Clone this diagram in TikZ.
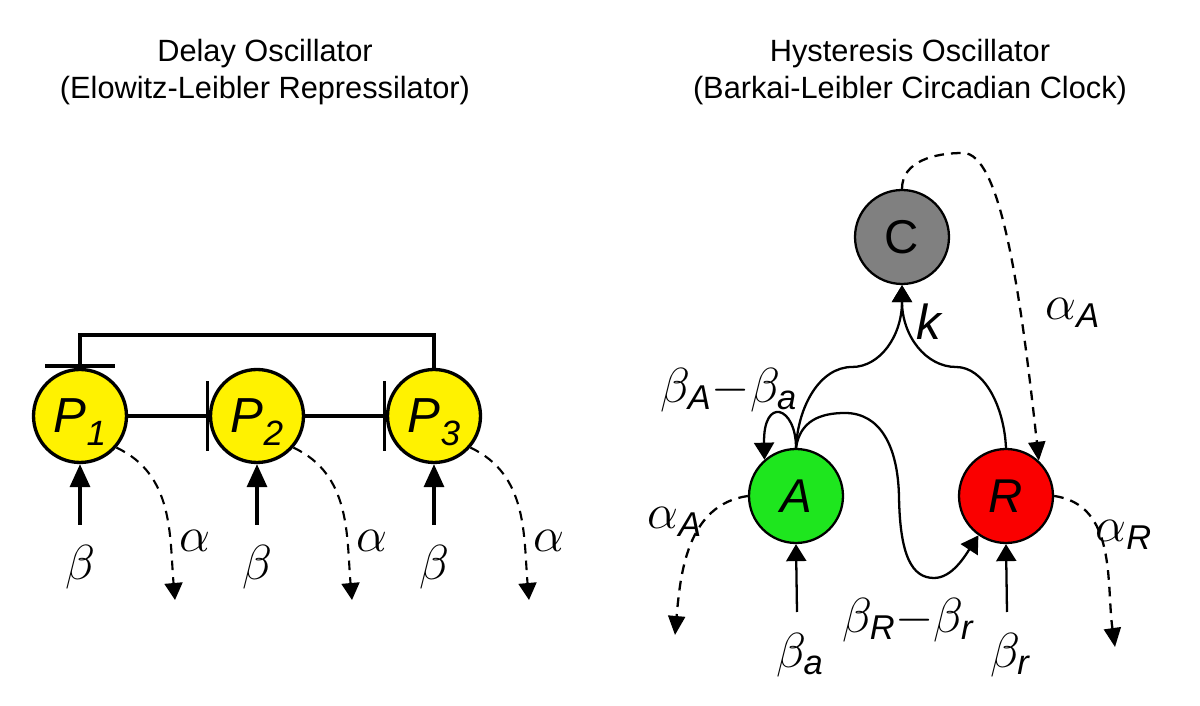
\RequirePackage{fix-cm}
\documentclass[tikz,border=0pt]{standalone}
\usepackage{amsmath}
\usepackage{fontspec}
\setmainfont{Liberation Sans}
\usetikzlibrary{arrows.meta}

\definecolor{agreen}{RGB}{30,230,30}
\definecolor{rred}{RGB}{250,0,0}
\definecolor{cgray}{RGB}{128,128,128}

\newcommand{\prot}[2]{\textit{#1}\raisebox{-0.25em}[0pt][0pt]{\fontsize{20}{20}\selectfont\textit{#2}}}

\begin{document}
\begin{tikzpicture}[x=0.02cm,y=0.02cm,
  gene/.style={circle,draw,line width=1.9pt,fill=yellow,minimum size=1.86cm,inner sep=0pt,font=\fontsize{28}{28}\selectfont},
  spec/.style={circle,draw,line width=1.3pt,minimum size=1.88cm,inner sep=0pt,font=\fontsize{27}{27}\selectfont},
  lab/.style={font=\fontsize{28}{28}\selectfont,inner sep=1pt},
  ttl/.style={font=\fontsize{17.5}{21}\selectfont,anchor=base},
  rep/.style={line width=1.9pt,-{Bar[width=1.4cm]}},
  prod/.style={line width=1.9pt,-{Triangle[width=0.4cm,length=0.46cm]}},
  decay/.style={line width=1.2pt,dash pattern=on 5.5pt off 4pt,-{Triangle[width=0.36cm,length=0.34cm]}},
  act/.style={line width=1.3pt,-{Triangle[width=0.4cm,length=0.34cm]}},
  deg/.style={line width=1.3pt,dash pattern=on 5.5pt off 4pt,-{Triangle[width=0.34cm,length=0.38cm]}}]
\useasboundingbox (0,0) rectangle (1200,706);

% titles
\node[ttl] (t1) at (265,644) {Delay Oscillator};
\node[ttl] (t1b) at (265,607) {(Elowitz-Leibler Repressilator)};
\node[ttl] (t2) at (910,644) {Hysteresis Oscillator};
\node[ttl] (t2b) at (910,607) {(Barkai-Leibler Circadian Clock)};

% repressilator
\node[gene] (P1) at (80,290) {\prot{P}{1}};
\node[gene] (P2) at (257,290) {\prot{P}{2}};
\node[gene] (P3) at (434,290) {\prot{P}{3}};
\coordinate (top) at (257,371);
\draw[rep] (P1) -- (P2);
\draw[rep] (P2) -- (P3);
\draw[rep] (P3.north) |- (top) -| (P1.north);

\foreach \i/\x in {1/80,2/257,3/434} {
  \coordinate (s\i) at (\x,181);
  \coordinate (d\i) at (\x+95,106);
  \node[lab] (b\i) at (\x,139) {$\beta$};
  \node[lab] (a\i) at (\x+115,165) {$\alpha$};
  \draw[prod] (s\i) -- (P\i);
  \draw[decay] (P\i.-41) to[out=-25,in=95] (d\i);
}

% hysteresis oscillator
\node[spec,fill=cgray] (C) at (902,469) {C};
\node[spec,fill=agreen] (A) at (796,210) {\textit{A}};
\node[spec,fill=rred] (R) at (1006,210) {\textit{R}};

\draw[act] (A.north) .. controls (798,300) and (820,339) .. (852,339)
  .. controls (880,339) and (902,370) .. (C.south);
\draw[act] (R.north) .. controls (1004,300) and (984,339) .. (956,339)
  .. controls (926,339) and (902,370) .. (C.south);
\draw[act] (A.north) .. controls (796,300) and (763,310) .. (A.131);
\draw[act] (A.north) .. controls (800,285) and (820,293) .. (845,293)
  .. controls (880,293) and (898,260) .. (899,209)
  .. controls (900,150) and (912,128) .. (934,128)
  .. controls (952,128) and (965,150) .. (R.235);
\draw[deg] (C.north) .. controls (902,545) and (935,553) .. (963,553)
  .. controls (1000,553) and (1020,420) .. (R.47);

\coordinate (sa) at (797,94);
\coordinate (sr) at (1007,94);
\coordinate (da) at (675,71);
\coordinate (dr) at (1115,59);
\draw[act] (sa) -- (A.south);
\draw[act] (sr) -- (R.south);
\draw[deg] (A.180) to[out=188,in=85] (da);
\draw[deg] (R.0) to[out=-8,in=98] (dr);

\node[lab] (k) at (930,384) {\textit{k}};
\node[lab] (bAa) at (729,316) {$\beta_{\textit{A}}{-}\beta_{\textit{a}}$};
\node[lab] (aC) at (1073,393) {$\alpha_{\textit{A}}$};
\node[lab] (ba) at (800,51) {$\beta_{\textit{a}}$};
\node[lab] (br) at (1010,51) {$\beta_{\textit{r}}$};
\node[lab] (aA) at (675,184) {$\alpha_{\textit{A}}$};
\node[lab] (aR) at (1124,171) {$\alpha_{\textit{R}}$};
\node[lab] (bRr) at (908,86) {$\beta_{\textit{R}}{-}\beta_{\textit{r}}$};
\end{tikzpicture}
\end{document}
